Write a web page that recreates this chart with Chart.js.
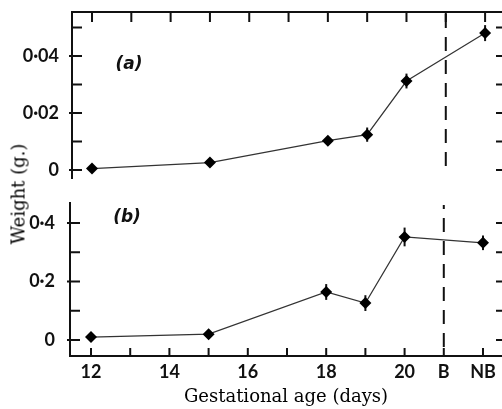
<!DOCTYPE html>
<html>
<head>
<meta charset="utf-8">
<script src="https://cdn.jsdelivr.net/npm/chart.js@4.4.1/dist/chart.umd.min.js"></script>
<style>
  html, body { margin: 0; padding: 0; background: #fff; }
  #wrap { position: relative; width: 502px; height: 409px; overflow: hidden; }
  .panel { position: absolute; left: 0; width: 502px; }
  #boxA { top: 0; height: 190px; }
  #boxB { top: 190px; height: 219px; }
  #ytitle {
    position: absolute; left: 18px; top: 194px;
    transform: translate(-50%, -50%) rotate(-90deg);
    font: 18px "DejaVu Serif"; color: #000; white-space: nowrap;
  }
</style>
</head>
<body>
<div id="wrap">
  <div class="panel" id="boxA"><canvas id="chartA"></canvas></div>
  <div class="panel" id="boxB"><canvas id="chartB"></canvas></div>
  <div id="ytitle">Weight (g.)</div>
</div>
<script>
// gestational age in days, 21 = B (birth), 22 = NB (newborn)
const ages = [12, 15, 18, 19, 20, 22];
const xTickValues = [12, 14, 16, 18, 20, 21, 22];
const xTickNames = { 21: "B", 22: "NB" };
const xMarkValues = [12, 13, 14, 15, 16, 17, 18, 19, 20, 21, 22];
const birthDay = 21;

// panel (a)
const weightA = [0.0005, 0.0026, 0.0103, 0.0124, 0.0312, 0.048];
const errA = [0.0008, 0.0008, 0.0015, 0.0025, 0.0026, 0.0028];
const yTicksA = [0, 0.02, 0.04];
const yMarksA = [0, 0.01, 0.02, 0.03, 0.04, 0.05];

// panel (b)
const weightB = [0.010, 0.020, 0.164, 0.126, 0.352, 0.332];
const errB = [0.01, 0.01, 0.027, 0.027, 0.032, 0.025];
const yTicksB = [0, 0.2, 0.4];
const yMarksB = [0, 0.1, 0.2, 0.3, 0.4];

const INK = "#111";
const tickFont = { family: "Lato", weight: "bold", size: 18 };

function fmtWeight(v, dec) {
  return v === 0 ? "0" : v.toFixed(dec).replace(".", "\u00b7");
}

// ticks, error bars, dashed birth line and panel letter
const panelMarks = {
  id: "panelMarks",
  beforeDatasetsDraw(chart, args, o) {
    const { ctx } = chart;
    const xs = chart.scales.x, ys = chart.scales.y;
    ctx.save();
    ctx.strokeStyle = INK;
    ctx.lineWidth = 2;
    o.err.forEach((e, i) => {
      const px = xs.getPixelForValue(ages[i]);
      ctx.beginPath();
      ctx.moveTo(px, ys.getPixelForValue(o.values[i] - e));
      ctx.lineTo(px, ys.getPixelForValue(o.values[i] + e));
      ctx.stroke();
    });
    ctx.restore();
  },
  afterDraw(chart, args, o) {
    const { ctx, chartArea: ca } = chart;
    const xs = chart.scales.x, ys = chart.scales.y;
    ctx.save();
    ctx.strokeStyle = INK;
    ctx.lineWidth = 2;
    ctx.beginPath();
    // left axis ticks
    o.yMarks.forEach(v => {
      const py = ys.getPixelForValue(v);
      const major = o.yTicks.includes(v);
      ctx.moveTo(ca.left - (major ? 3 : 0), py);
      ctx.lineTo(ca.left + 10, py);
      // right edge ticks
      ctx.moveTo(ca.right - 6, py);
      ctx.lineTo(ca.right, py);
    });
    // x ticks along top or bottom edge
    xMarkValues.forEach(v => {
      const px = xs.getPixelForValue(v);
      if (o.xEdge === "top") {
        ctx.moveTo(px, ca.top);
        ctx.lineTo(px, ca.top + 10);
      } else {
        ctx.moveTo(px, ca.bottom);
        ctx.lineTo(px, ca.bottom - 8);
      }
    });
    ctx.stroke();

    // dashed line at birth
    const bx = xs.getPixelForValue(birthDay);
    ctx.setLineDash([14, 9]);
    ctx.lineDashOffset = o.dashOffset;
    ctx.beginPath();
    ctx.moveTo(bx, ca.top + 2);
    ctx.lineTo(bx, o.dashToZero ? ys.getPixelForValue(0) : ca.bottom);
    ctx.stroke();
    ctx.setLineDash([]);

    ctx.fillStyle = INK;
    ctx.font = "italic bold 17px 'DejaVu Sans'";
    ctx.textAlign = "center";
    ctx.textBaseline = "middle";
    ctx.fillText(o.label, ca.left + o.labelDx, ca.top + o.labelDy);
    ctx.restore();
  }
};

function makePanel(id, values, cfg) {
  return new Chart(document.getElementById(id), {
    type: "line",
    data: {
      datasets: [{
        data: ages.map((a, i) => ({ x: a, y: values[i] })),
        borderColor: "#333",
        borderWidth: 1.2,
        tension: 0,
        pointStyle: "rectRot",
        pointRadius: 6,
        pointBackgroundColor: "#000",
        pointBorderColor: "#000",
        pointBorderWidth: 0
      }]
    },
    options: {
      responsive: true,
      maintainAspectRatio: false,
      animation: false,
      layout: { padding: cfg.padding, autoPadding: false },
      plugins: {
        legend: { display: false },
        tooltip: { enabled: false },
        panelMarks: Object.assign({ values }, cfg.marks)
      },
      scales: {
        x: {
          type: "linear",
          position: cfg.xEdge,
          min: cfg.xMin,
          max: cfg.xMax,
          grid: { display: false },
          border: { display: true, width: 2, color: INK },
          afterBuildTicks(s) { s.ticks = xTickValues.map(v => ({ value: v })); },
          afterFit(s) { s.height = cfg.xHeight; s.paddingLeft = 0; s.paddingRight = 0; },
          ticks: {
            display: cfg.xEdge === "bottom",
            autoSkip: false,
            maxRotation: 0,
            padding: -3,
            color: INK,
            font: tickFont,
            callback: v => xTickNames[v] || String(v)
          },
          title: {
            display: cfg.xEdge === "bottom",
            text: "Gestational age (days)",
            color: "#000",
            font: { family: "DejaVu Serif", size: 18 },
            padding: { top: 0, bottom: 1 }
          }
        },
        y: {
          min: cfg.yMin,
          max: cfg.yMax,
          grid: { display: false },
          border: { display: true, width: 2, color: INK },
          afterBuildTicks(s) { s.ticks = cfg.yTicks.map(v => ({ value: v })); },
          afterFit(s) { s.width = cfg.yWidth; s.paddingTop = 0; s.paddingBottom = 0; },
          ticks: {
            padding: cfg.yPad,
            color: INK,
            font: tickFont,
            callback: v => fmtWeight(v, cfg.dec)
          }
        }
      }
    },
    plugins: [panelMarks]
  });
}

makePanel("chartA", weightA, {
  padding: { top: 0, bottom: 12, left: 0, right: 0 },
  xEdge: "top", xHeight: 12, xMin: 11.491, xMax: 22.43,
  yMin: -0.0028, yMax: 0.0554, yTicks: yTicksA, yWidth: 72, yPad: 5, dec: 2,
  marks: { err: errA, yTicks: yTicksA, yMarks: yMarksA, xEdge: "top",
           dashOffset: 0, dashToZero: true, label: "(a)", labelDx: 57, labelDy: 53 }
});

makePanel("chartB", weightB, {
  padding: { top: 13, bottom: 0, left: 0, right: 0 },
  xEdge: "bottom", xHeight: 53, xMin: 11.464, xMax: 22.485,
  yMin: -0.0547, yMax: 0.468, yTicks: yTicksB, yWidth: 70, yPad: 7, dec: 1,
  marks: { err: errB, yTicks: yTicksB, yMarks: yMarksB, xEdge: "bottom",
           dashOffset: 10, dashToZero: false, label: "(b)", labelDx: 57, labelDy: 15 }
});
</script>
</body>
</html>
